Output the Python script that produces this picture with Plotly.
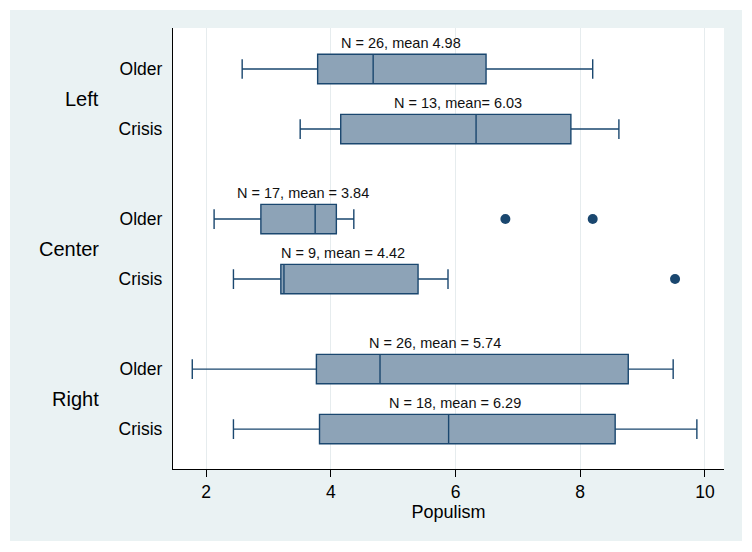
import plotly.graph_objects as go

# ---- data ----
groups = ["Left", "Center", "Right"]
periods = ["Older", "Crisis", "Older", "Crisis", "Older", "Crisis"]
row_pos = [0, 2, 5, 7, 10, 12]          # vertical slot of each row
group_pos = [1, 6, 11]
lower_whisker = [2.58, 3.51, 2.13, 2.44, 1.78, 2.44]
q1_vals = [3.79, 4.16, 2.88, 3.20, 3.77, 3.82]
median_vals = [4.68, 6.33, 3.75, 3.25, 4.79, 5.89]
q3_vals = [6.49, 7.85, 4.09, 5.40, 8.77, 8.56]
upper_whisker = [8.20, 8.62, 4.37, 5.88, 9.49, 9.87]
outlier_x = [6.80, 8.20, 9.52]
outlier_row = [5, 5, 7]
labels = ["N = 26, mean 4.98", "N = 13, mean= 6.03", "N = 17, mean = 3.84",
          "N = 9, mean = 4.42", "N = 26, mean = 5.74", "N = 18, mean = 6.29"]
label_x = [5.125, 6.04, 3.555, 4.19, 5.67, 5.99]
x_ticks = [2, 4, 6, 8, 10]

# ---- style ----
FONT = "Liberation Sans, Arial, sans-serif"
NAVY = "#1A476F"
FILL = "#8DA3B7"
BG = "#EAF2F3"
W, H = 752, 552
ML, MR, MT, MB = 173, 28, 28, 83
PW, PH = W - ML - MR, H - MT - MB

fig = go.Figure()
fig.add_trace(go.Box(
    y=row_pos, q1=q1_vals, median=median_vals, q3=q3_vals,
    lowerfence=lower_whisker, upperfence=upper_whisker,
    orientation="h", boxpoints=False, width=0.98, whiskerwidth=0.67,
    fillcolor=FILL, line=dict(color=NAVY, width=1.4),
    showlegend=False, hoverinfo="skip",
))
fig.add_trace(go.Scatter(
    x=outlier_x, y=outlier_row, mode="markers",
    marker=dict(size=10, color=NAVY, line=dict(width=0)),
    showlegend=False, hoverinfo="skip",
))

annotations = []
for t, xv, yv in zip(labels, label_x, row_pos):
    annotations.append(dict(
        x=xv, y=yv, xref="x", yref="y", text=t, showarrow=False,
        yshift=26, xanchor="center", yanchor="middle",
        font=dict(family=FONT, size=14.5, color="#111111"),
    ))
for g, yv in zip(groups, group_pos):
    annotations.append(dict(
        x=(101 - ML) / PW, y=yv, xref="paper", yref="y", text=g,
        showarrow=False, xanchor="right", yanchor="middle",
        font=dict(family=FONT, size=20, color="#000000"),
    ))


def px_x(p):
    return (p - ML) / PW


def px_y(p):
    return (H - MB - p) / PH


# white outer border around the light graph region
shapes = []
for x0, y0, x1, y1 in [(0, 0, W, 10), (0, 541, W, H), (0, 0, 10, H), (742, 0, W, H)]:
    shapes.append(dict(type="rect", xref="paper", yref="paper",
                       x0=px_x(x0), x1=px_x(x1), y0=px_y(y1), y1=px_y(y0),
                       fillcolor="white", line=dict(width=0), layer="above"))

fig.update_layout(
    width=W, height=H,
    margin=dict(l=ML, r=MR, t=MT, b=MB, pad=0),
    paper_bgcolor=BG, plot_bgcolor="white",
    font=dict(family=FONT, color="#000000"),
    annotations=annotations, shapes=shapes,
    xaxis=dict(
        range=[1.471, 10.305], tickvals=x_ticks, ticktext=[str(v) for v in x_ticks],
        showgrid=True, gridcolor="#E6ECEE", gridwidth=1, zeroline=False,
        showline=True, linecolor="#000000", linewidth=1.3,
        ticks="outside", ticklen=7, tickwidth=1.3, tickcolor="#000000",
        tickfont=dict(family=FONT, size=17.5),
        title=dict(text="Populism", font=dict(family=FONT, size=18), standoff=4),
    ),
    yaxis=dict(
        range=[13.33, -1.367], tickvals=row_pos, ticktext=periods,
        showgrid=False, zeroline=False,
        showline=True, linecolor="#000000", linewidth=1.3,
        ticks="", ticklabelstandoff=6,
        tickfont=dict(family=FONT, size=17.5),
    ),
)

fig.write_html("out.html")
